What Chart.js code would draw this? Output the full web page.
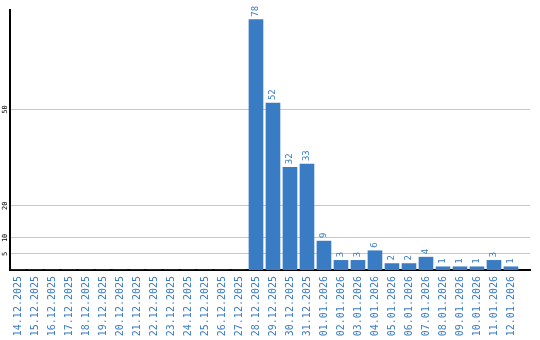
<!DOCTYPE html>
<html>
<head>
<meta charset="utf-8">
<script src="https://cdn.jsdelivr.net/npm/chart.js@4"></script>
<style>
  html,body{margin:0;padding:0;background:#fff;}
  #wrap{width:540px;height:340px;position:relative;}
</style>
</head>
<body>
<div id="wrap"><canvas id="c"></canvas></div>
<script>
/* ---- data ---- */
const dates = [
  '14.12.2025','15.12.2025','16.12.2025','17.12.2025','18.12.2025','19.12.2025',
  '20.12.2025','21.12.2025','22.12.2025','23.12.2025','24.12.2025','25.12.2025',
  '26.12.2025','27.12.2025','28.12.2025','29.12.2025','30.12.2025','31.12.2025',
  '01.01.2026','02.01.2026','03.01.2026','04.01.2026','05.01.2026','06.01.2026',
  '07.01.2026','08.01.2026','09.01.2026','10.01.2026','11.01.2026','12.01.2026'
];
const counts = [0,0,0,0,0,0,0,0,0,0,0,0,0,0,78,52,32,33,9,3,3,6,2,2,4,1,1,1,3,1];
const yTicks = [5,10,20,50];

const BLUE = '#3a7cc3';
const MONO = '"DejaVu Sans Mono", monospace';

// value labels above bars, rotated
const barLabels = {
  id:'barLabels',
  afterDatasetsDraw(chart){
    const ctx = chart.ctx;
    const meta = chart.getDatasetMeta(0);
    ctx.save();
    ctx.fillStyle = BLUE;
    ctx.font = '9px ' + MONO;
    ctx.textAlign = 'left';
    ctx.textBaseline = 'middle';
    meta.data.forEach((bar,i)=>{
      const v = counts[i];
      if(!v) return;
      ctx.save();
      ctx.translate(bar.x, bar.y - 3);
      ctx.rotate(-Math.PI/2);
      ctx.fillText(String(v), 0, 0);
      ctx.restore();
    });
    ctx.restore();
  }
};

// rotated y tick labels
const yLabels = {
  id:'yLabels',
  afterDraw(chart){
    const ctx = chart.ctx, y = chart.scales.y;
    ctx.save();
    ctx.fillStyle = '#000';
    ctx.font = '7px ' + MONO;
    ctx.textAlign = 'center';
    ctx.textBaseline = 'middle';
    yTicks.forEach(t=>{
      ctx.save();
      ctx.translate(5, y.getPixelForValue(t));
      ctx.rotate(-Math.PI/2);
      ctx.fillText(String(t), 0, 0);
      ctx.restore();
    });
    ctx.restore();
  }
};

new Chart(document.getElementById('c'), {
  type:'bar',
  data:{ datasets:[{ data:counts.map((v,i)=>({x:i, y:v})), backgroundColor:BLUE, barThickness:14 }] },
  options:{
    responsive:true, maintainAspectRatio:false, animation:false,
    layout:{ padding:{left:10, right:10, top:10, bottom:0} },
    plugins:{ legend:{display:false}, tooltip:{enabled:false} },
    scales:{
      x:{
        type:'linear', min:-0.47, max:30.12, offset:false,
        grid:{display:false, drawTicks:false, offset:false},
        border:{display:true, color:'#000', width:2},
        afterFit(s){ s.height = 70; s.paddingLeft = 0; s.paddingRight = 0; },
        ticks:{
          stepSize:1, includeBounds:false, autoSkip:false,
          minRotation:90, maxRotation:90, padding:6,
          color:BLUE, font:{family:MONO, size:10},
          callback:(v)=>dates[Math.round(v)] || ''
        }
      },
      y:{
        min:0, max:81,
        afterBuildTicks(s){ s.ticks = yTicks.map(v=>({value:v})); },
        grid:{color:'#c8c8c8', drawTicks:false},
        border:{display:true, color:'#000', width:2},
        ticks:{display:false}
      }
    }
  },
  plugins:[barLabels, yLabels]
});
</script>
</body>
</html>
